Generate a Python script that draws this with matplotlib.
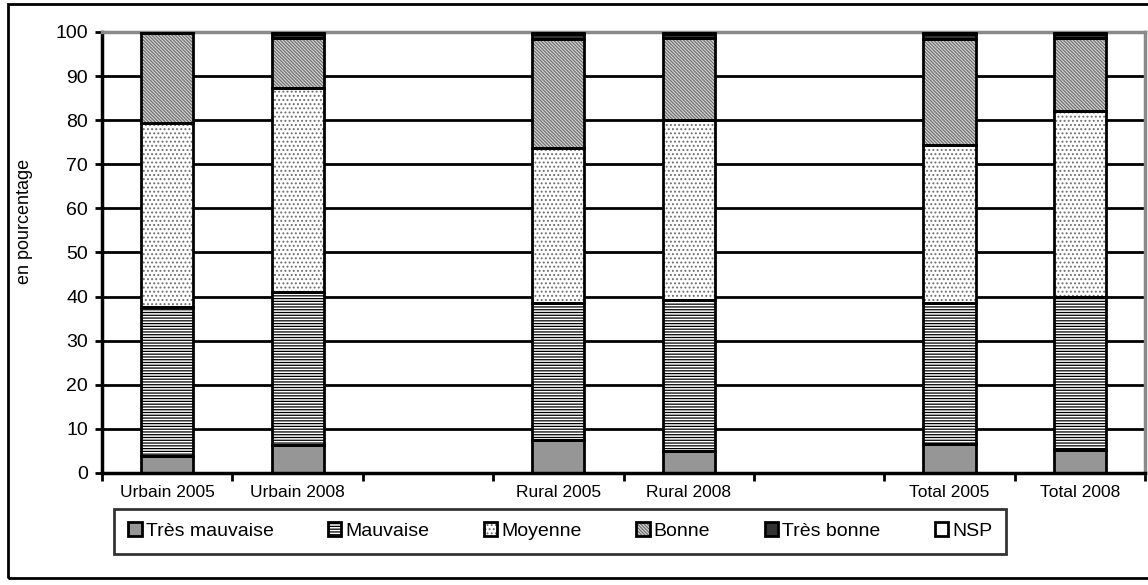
import matplotlib.pyplot as plt
import numpy as np
from matplotlib.patches import Rectangle

plt.rcParams['font.family'] = ['Liberation Sans', 'DejaVu Sans']
plt.rcParams['hatch.linewidth'] = 0.9

# -------------------------
# Data
# -------------------------
categories = ['Urbain 2005', 'Urbain 2008', '', 'Rural 2005', 'Rural 2008', '',
              'Total 2005', 'Total 2008']
series_names = ['Très mauvaise', 'Mauvaise', 'Moyenne', 'Bonne', 'Très bonne', 'NSP']
tres_mauvaise = [3.8, 6.3, np.nan, 7.4, 5.0, np.nan, 6.5, 5.2]
mauvaise      = [33.8, 34.7, np.nan, 31.1, 34.3, np.nan, 32.0, 34.6]
moyenne       = [41.8, 46.3, np.nan, 35.1, 40.7, np.nan, 35.9, 42.3]
bonne         = [20.3, 11.3, np.nan, 24.7, 18.6, np.nan, 24.1, 16.5]
tres_bonne    = [0.3, 1.0, np.nan, 1.2, 1.0, np.nan, 1.1, 1.0]
nsp           = [0.0, 0.4, np.nan, 0.5, 0.4, np.nan, 0.4, 0.4]
series = [tres_mauvaise, mauvaise, moyenne, bonne, tres_bonne, nsp]

# fill colour, hatch, hatch colour per series
styles = [
    ('#969696', '', '#969696'),
    ('white', '------', 'black'),
    ('white', '....', '#707070'),
    ('#d8d8d8', '\\' * 10, '#707070'),
    ('#333333', '', '#333333'),
    ('white', '', 'white'),
]

# -------------------------
# Figure
# -------------------------
fig = plt.figure(figsize=(11.48, 5.85), dpi=100)
ax = fig.add_axes([0.0889, 0.1915, 0.9085, 0.7538])

x = np.arange(len(categories))
bottom = np.zeros(len(categories))
handles = []
for vals, (fc, hatch, hc) in zip(series, styles):
    v = np.nan_to_num(np.array(vals, dtype=float))
    fill = ax.bar(x, v, 0.4, bottom=bottom, color=fc, hatch=hatch,
                  edgecolor=hc, linewidth=0, zorder=2)
    edge = ax.bar(x, v, 0.4, bottom=bottom, fill=False,
                  edgecolor='black', linewidth=2, zorder=3)
    handles.append((fill[0], edge[0]))
    bottom += v

# -------------------------
# Axes styling
# -------------------------
ax.set_xlim(-0.5, len(categories) - 0.5)
ax.set_ylim(0, 100)
ax.set_yticks(np.arange(0, 101, 10))
ax.tick_params(axis='y', labelsize=14, width=2, length=5, pad=5)
ax.set_xticks(x)
ax.set_xticklabels(categories, fontsize=12.5)
ax.set_xticks(np.arange(-0.5, len(categories), 1), minor=True)
ax.tick_params(axis='x', which='major', length=0, pad=9)
ax.tick_params(axis='x', which='minor', length=6, width=2)

ax.yaxis.grid(True, color='black', linewidth=2)
ax.set_axisbelow(True)
for s in ['left', 'bottom']:
    ax.spines[s].set_linewidth(2.5)
    ax.spines[s].set_color('black')
for s in ['top', 'right']:
    ax.spines[s].set_linewidth(2.5)
    ax.spines[s].set_color('#8a8a8a')

ax.set_ylabel('en pourcentage', fontsize=13)
ax.yaxis.set_label_coords(-0.066, 0.57)

# -------------------------
# Legend
# -------------------------
leg = fig.legend(handles, series_names, loc='center', bbox_to_anchor=(0.488, 0.092),
                 ncol=6, fontsize=14, frameon=True, fancybox=False,
                 handlelength=0.7, handleheight=0.7, handletextpad=0.2,
                 columnspacing=2.8, borderpad=0.7)
leg.get_frame().set_edgecolor('black')
leg.get_frame().set_linewidth(2)

# outer frame
fig.patches.append(Rectangle((0.007, 0.012), 1.1, 0.982, transform=fig.transFigure,
                             fill=False, edgecolor='black', linewidth=2))

fig.savefig('out.png', dpi=100)
